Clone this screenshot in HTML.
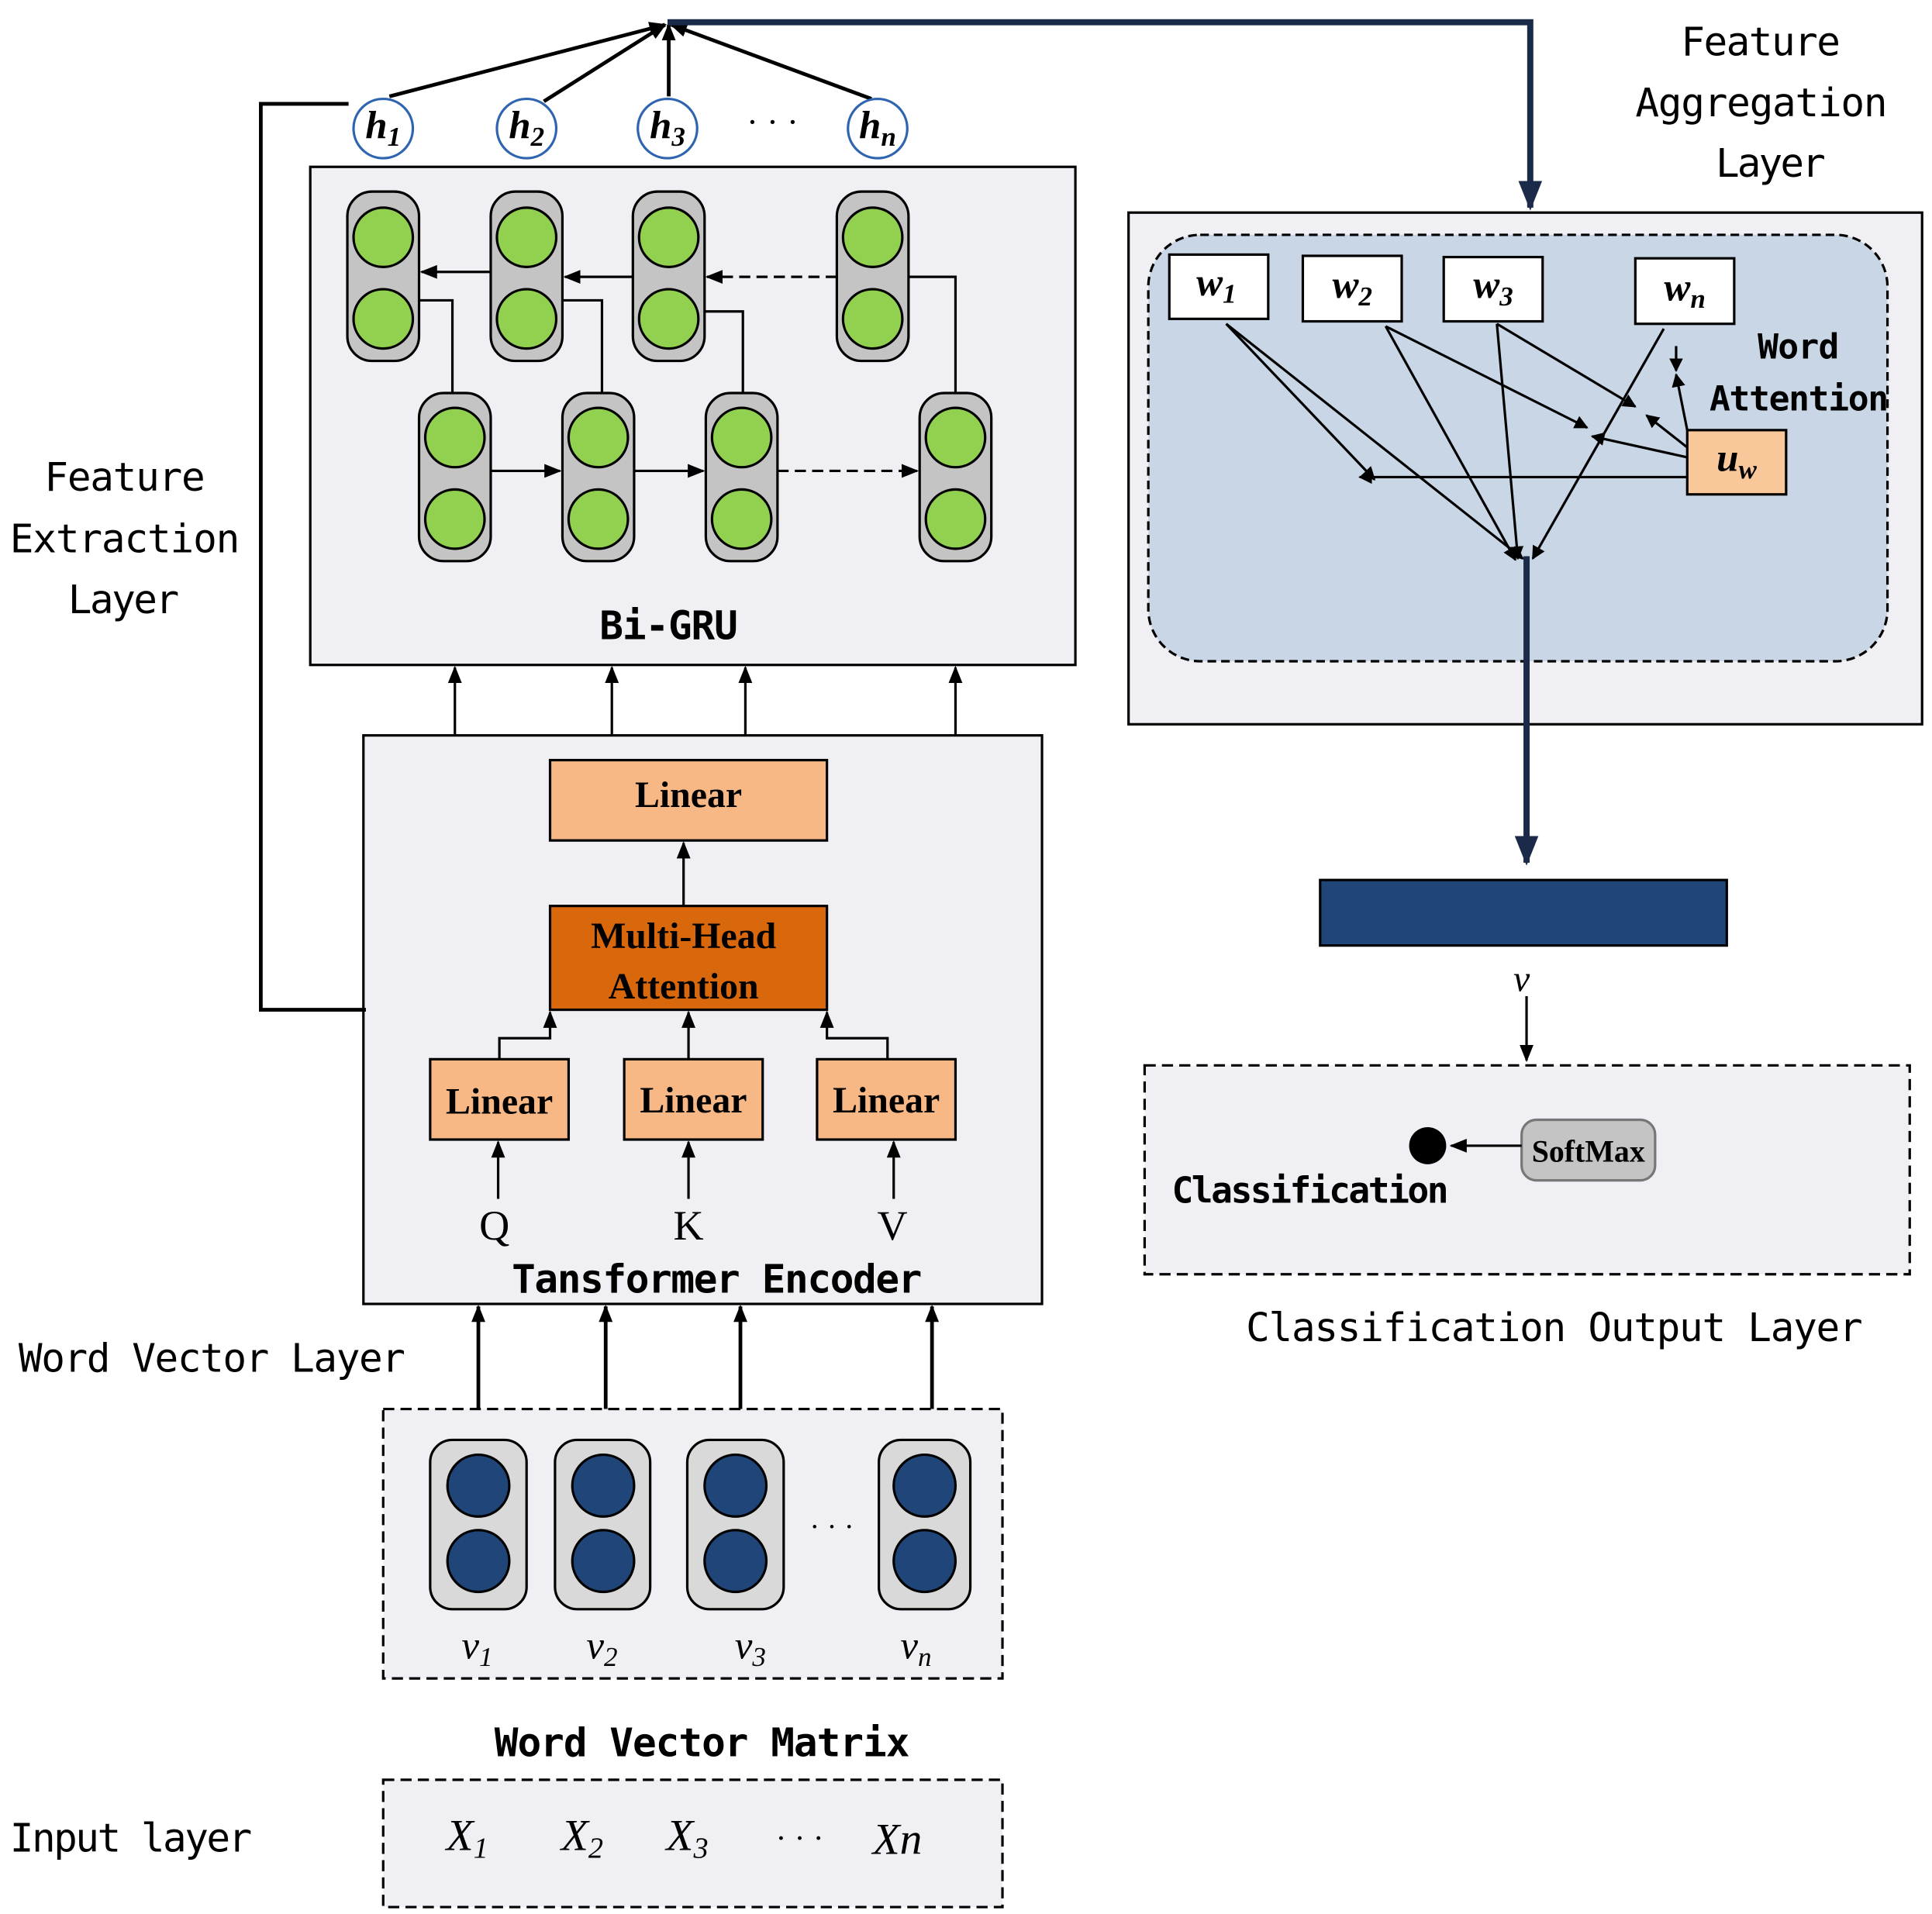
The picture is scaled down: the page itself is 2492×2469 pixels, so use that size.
<!DOCTYPE html>
<html><head><meta charset="utf-8"><style>
html,body{margin:0;padding:0;background:#fff}
svg{display:block}
.m{font-family:"DejaVu Sans Mono","Liberation Mono",monospace}
.s{font-family:"Liberation Serif",serif}
</style></head><body>
<svg width="2492" height="2469" viewBox="0 0 1563 1548.6" xmlns="http://www.w3.org/2000/svg">
<defs>
<marker id="a" viewBox="0 0 10 10" refX="9" refY="5" markerWidth="11" markerHeight="11" orient="auto-start-reverse" markerUnits="userSpaceOnUse"><path d="M0,0L10,5L0,10z" fill="#000"/></marker>
<marker id="b" viewBox="0 0 10 10" refX="9" refY="5" markerWidth="14" markerHeight="14" orient="auto" markerUnits="userSpaceOnUse"><path d="M0,1L10,5L0,9z" fill="#000"/></marker>
<marker id="n" viewBox="0 0 10 10" refX="9" refY="5" markerWidth="24" markerHeight="24" orient="auto" markerUnits="userSpaceOnUse"><path d="M0,1L10,5L0,9z" fill="#1a2a48"/></marker>
</defs>
<g stroke="#000" stroke-width="2">
<rect x="251" y="135" width="619" height="403" fill="#f0eff4"/>
<rect x="294" y="595" width="549" height="460" fill="#f0eff4"/>
<rect x="310" y="1140" width="501" height="218" fill="#f0eff4" stroke-dasharray="9,5"/>
<rect x="310" y="1440" width="501" height="103" fill="#f0eff4" stroke-dasharray="9,5"/>
<rect x="913" y="172" width="642" height="414" fill="#f0eff4"/>
<rect x="929" y="190" width="598" height="345" rx="42" fill="#c9d6e5" stroke-dasharray="7,4"/>
<rect x="926" y="862" width="619" height="169" fill="#f0eff4" stroke-dasharray="9,5"/>
</g>
<g stroke="#000" stroke-width="2">
<g fill="#c4c4c4">
<rect x="281" y="155" width="58" height="137" rx="20"/><rect x="397" y="155" width="58" height="137" rx="20"/>
<rect x="512" y="155" width="58" height="137" rx="20"/><rect x="677" y="155" width="58" height="137" rx="20"/>
<rect x="339" y="318" width="58" height="136" rx="20"/><rect x="455" y="318" width="58" height="136" rx="20"/>
<rect x="571" y="318" width="58" height="136" rx="20"/><rect x="744" y="318" width="58" height="136" rx="20"/>
</g>
<g fill="#92d050">
<circle cx="310" cy="192" r="24"/><circle cx="310" cy="258" r="24"/>
<circle cx="426" cy="192" r="24"/><circle cx="426" cy="258" r="24"/>
<circle cx="541" cy="192" r="24"/><circle cx="541" cy="258" r="24"/>
<circle cx="706" cy="192" r="24"/><circle cx="706" cy="258" r="24"/>
<circle cx="368" cy="354" r="24"/><circle cx="368" cy="420" r="24"/>
<circle cx="484" cy="354" r="24"/><circle cx="484" cy="420" r="24"/>
<circle cx="600" cy="354" r="24"/><circle cx="600" cy="420" r="24"/>
<circle cx="773" cy="354" r="24"/><circle cx="773" cy="420" r="24"/>
</g>
</g>
<g stroke="#000" stroke-width="2" fill="none">
<line x1="397" y1="220" x2="341" y2="220" marker-end="url(#b)"/>
<line x1="512" y1="224" x2="457" y2="224" marker-end="url(#b)"/>
<line x1="677" y1="224" x2="572" y2="224" stroke-dasharray="9,5" marker-end="url(#b)"/>
<polyline points="366,318 366,243 339,243"/>
<polyline points="487,318 487,243 455,243"/>
<polyline points="601,318 601,252 570,252"/>
<polyline points="773,318 773,224 735,224"/>
<line x1="397" y1="381" x2="453" y2="381" marker-end="url(#b)"/>
<line x1="513" y1="381" x2="569" y2="381" marker-end="url(#b)"/>
<line x1="629" y1="381" x2="742" y2="381" stroke-dasharray="9,5" marker-end="url(#b)"/>
<line x1="315" y1="78" x2="538" y2="20" stroke-width="3" marker-end="url(#b)"/>
<line x1="440" y1="82" x2="538" y2="20" stroke-width="3" marker-end="url(#b)"/>
<line x1="541" y1="78" x2="541" y2="20" stroke-width="3" marker-end="url(#b)"/>
<line x1="705" y1="80" x2="543" y2="20" stroke-width="3" marker-end="url(#b)"/>
<polyline points="282,84 211,84 211,817 296,817" stroke-width="3"/>
<line x1="368" y1="595" x2="368" y2="540" marker-end="url(#b)"/>
<line x1="495" y1="595" x2="495" y2="540" marker-end="url(#b)"/>
<line x1="603" y1="595" x2="603" y2="540" marker-end="url(#b)"/>
<line x1="773" y1="595" x2="773" y2="540" marker-end="url(#b)"/>
<line x1="387" y1="1140" x2="387" y2="1057" stroke-width="3" marker-end="url(#b)"/>
<line x1="490" y1="1140" x2="490" y2="1057" stroke-width="3" marker-end="url(#b)"/>
<line x1="599" y1="1140" x2="599" y2="1057" stroke-width="3" marker-end="url(#b)"/>
<line x1="754" y1="1140" x2="754" y2="1057" stroke-width="3" marker-end="url(#b)"/>
<line x1="553" y1="733" x2="553" y2="682" marker-end="url(#b)"/>
<polyline points="404,857 404,840 445,840 445,819" marker-end="url(#b)"/>
<line x1="557" y1="857" x2="557" y2="819" marker-end="url(#b)"/>
<polyline points="718,857 718,840 669,840 669,819" marker-end="url(#b)"/>
<line x1="403" y1="970" x2="403" y2="924" marker-end="url(#b)"/>
<line x1="557" y1="970" x2="557" y2="924" marker-end="url(#b)"/>
<line x1="723" y1="970" x2="723" y2="924" marker-end="url(#b)"/>
</g>
<polyline points="540,18 1238,18 1238,168" fill="none" stroke="#1a2a48" stroke-width="5" marker-end="url(#n)"/>
<line x1="1235" y1="450" x2="1235" y2="698" stroke="#1a2a48" stroke-width="5" marker-end="url(#n)"/>
<g stroke="#2e64b0" stroke-width="2" fill="#fff">
<circle cx="310" cy="104" r="24"/><circle cx="426" cy="104" r="24"/><circle cx="540" cy="104" r="24"/><circle cx="710" cy="104" r="24"/>
</g>
<g class="s" font-style="italic" font-weight="bold" font-size="32" text-anchor="middle">
<text x="310" y="112">h<tspan font-size="22" dy="6">1</tspan></text>
<text x="426" y="112">h<tspan font-size="22" dy="6">2</tspan></text>
<text x="540" y="112">h<tspan font-size="22" dy="6">3</tspan></text>
<text x="710" y="112">h<tspan font-size="22" dy="6">n</tspan></text>
</g>
<text x="625" y="108" font-size="28" text-anchor="middle" class="s">· · ·</text>
<text x="541" y="517" class="m" font-weight="bold" font-size="32" text-anchor="middle" textLength="112">Bi-GRU</text>
<g stroke="#000" stroke-width="2">
<rect x="445" y="615" width="224" height="65" fill="#f8b885"/>
<rect x="445" y="733" width="224" height="84" fill="#d9680c"/>
<rect x="348" y="857" width="112" height="65" fill="#f8b885"/>
<rect x="505" y="857" width="112" height="65" fill="#f8b885"/>
<rect x="661" y="857" width="112" height="65" fill="#f8b885"/>
</g>
<g class="s" font-weight="bold" font-size="30" text-anchor="middle">
<text x="557" y="653">Linear</text>
<text x="553" y="767">Multi-Head</text>
<text x="553" y="808">Attention</text>
<text x="404" y="901">Linear</text>
<text x="561" y="900">Linear</text>
<text x="717" y="900">Linear</text>
</g>
<g class="s" font-size="34" text-anchor="middle">
<text x="400" y="1003">Q</text><text x="557" y="1003">K</text><text x="722" y="1003">V</text>
</g>
<text x="580" y="1046" class="m" font-weight="bold" font-size="32" text-anchor="middle" textLength="332">Tansformer Encoder</text>
<g stroke="#000" stroke-width="2">
<g fill="#d9d9d9">
<rect x="348" y="1165" width="78" height="137" rx="18"/><rect x="449" y="1165" width="77" height="137" rx="18"/>
<rect x="556" y="1165" width="78" height="137" rx="18"/><rect x="711" y="1165" width="74" height="137" rx="18"/>
</g>
<g fill="#1f4579">
<circle cx="387" cy="1202" r="25"/><circle cx="387" cy="1263" r="25"/>
<circle cx="488" cy="1202" r="25"/><circle cx="488" cy="1263" r="25"/>
<circle cx="595" cy="1202" r="25"/><circle cx="595" cy="1263" r="25"/>
<circle cx="748" cy="1202" r="25"/><circle cx="748" cy="1263" r="25"/>
</g>
</g>
<text x="673" y="1243" font-size="24" text-anchor="middle" class="s">· · ·</text>
<g class="s" font-style="italic" font-size="32" text-anchor="middle">
<text x="386" y="1342">v<tspan font-size="22" dy="6">1</tspan></text>
<text x="487" y="1342">v<tspan font-size="22" dy="6">2</tspan></text>
<text x="607" y="1342">v<tspan font-size="22" dy="6">3</tspan></text>
<text x="741" y="1342">v<tspan font-size="22" dy="6">n</tspan></text>
</g>
<text x="568" y="1421" class="m" font-weight="bold" font-size="32" text-anchor="middle" textLength="336">Word Vector Matrix</text>
<g class="s" font-style="italic" font-size="36" text-anchor="middle">
<text x="378" y="1497">X<tspan font-size="24" dy="6">1</tspan></text>
<text x="471" y="1497">X<tspan font-size="24" dy="6">2</tspan></text>
<text x="556" y="1497">X<tspan font-size="24" dy="6">3</tspan></text>
<text x="647" y="1496" font-style="normal" font-size="26">· · ·</text>
<text x="726" y="1500">Xn</text>
</g>
<g class="m" font-size="32">
<text x="36" y="397" textLength="130">Feature</text>
<text x="8" y="447" textLength="186">Extraction</text>
<text x="55" y="496" textLength="90">Layer</text>
<text x="15" y="1110" textLength="313">Word Vector Layer</text>
<text x="8" y="1498" textLength="196">Input layer</text>
<text x="1360" y="45" textLength="129">Feature</text>
<text x="1323" y="94" textLength="204">Aggregation</text>
<text x="1388" y="143" textLength="89">Layer</text>
<text x="1008" y="1085" textLength="499">Classification Output Layer</text>
</g>
<g stroke="#000" stroke-width="2">
<rect x="946" y="206" width="80" height="52" fill="#fff"/>
<rect x="1054" y="207" width="80" height="53" fill="#fff"/>
<rect x="1168" y="208" width="80" height="52" fill="#fff"/>
<rect x="1323" y="209" width="80" height="53" fill="#fff"/>
<rect x="1365" y="348" width="80" height="52" fill="#f8c89a"/>
</g>
<g class="s" font-style="italic" font-weight="bold" font-size="32" text-anchor="middle">
<text x="984" y="239">w<tspan font-size="22" dy="6">1</tspan></text>
<text x="1094" y="241">w<tspan font-size="22" dy="6">2</tspan></text>
<text x="1208" y="241">w<tspan font-size="22" dy="6">3</tspan></text>
<text x="1363" y="243">w<tspan font-size="22" dy="6">n</tspan></text>
<text x="1405" y="381">u<tspan font-size="22" dy="6">w</tspan></text>
</g>
<g class="m" font-weight="bold" font-size="28">
<text x="1422" y="290" textLength="66">Word</text>
<text x="1383" y="332" textLength="145">Attention</text>
</g>
<g stroke="#000" stroke-width="2" fill="none">
<line x1="992" y1="262" x2="1112" y2="388" marker-end="url(#a)"/>
<line x1="992" y1="262" x2="1232" y2="452" marker-end="url(#a)"/>
<line x1="1121" y1="264" x2="1226" y2="453" marker-end="url(#a)"/>
<line x1="1121" y1="264" x2="1284" y2="346" marker-end="url(#a)"/>
<line x1="1211" y1="262" x2="1228" y2="452" marker-end="url(#a)"/>
<line x1="1211" y1="262" x2="1323" y2="329" marker-end="url(#a)"/>
<line x1="1346" y1="266" x2="1240" y2="452" marker-end="url(#a)"/>
<line x1="1365" y1="386" x2="1100" y2="386" marker-end="url(#a)"/>
<line x1="1365" y1="370" x2="1288" y2="353" marker-end="url(#a)"/>
<line x1="1365" y1="362" x2="1332" y2="336" marker-end="url(#a)"/>
<line x1="1365" y1="348" x2="1356" y2="303" marker-end="url(#a)"/>
<line x1="1356" y1="280" x2="1356" y2="300" marker-end="url(#a)"/>
</g>
<rect x="1068" y="712" width="329" height="53" fill="#1f4579" stroke="#000" stroke-width="2"/>
<text x="1231" y="802" class="s" font-style="italic" font-size="30" text-anchor="middle">v</text>
<line x1="1235" y1="806" x2="1235" y2="858" stroke="#000" stroke-width="2" marker-end="url(#b)"/>
<circle cx="1155" cy="927" r="15" fill="#000"/>
<rect x="1231" y="906" width="108" height="49" rx="12" fill="#c4c4c4" stroke="#777" stroke-width="2"/>
<text x="1285" y="940" class="s" font-weight="bold" font-size="25" text-anchor="middle">SoftMax</text>
<line x1="1231" y1="927" x2="1174" y2="927" stroke="#000" stroke-width="2" marker-end="url(#b)"/>
<text x="948" y="973" class="m" font-weight="bold" font-size="29" textLength="224">Classification</text>
</svg>
</body></html>
